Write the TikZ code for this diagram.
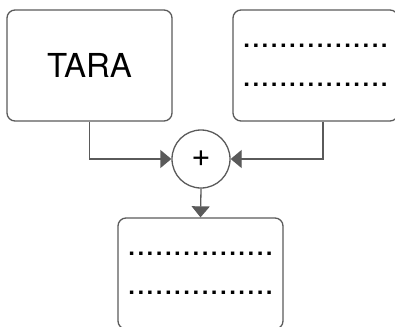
\documentclass[tikz,border=0pt]{standalone}
\usepackage{fontspec}
\setmainfont{TeX Gyre Heros}
\usetikzlibrary{arrows.meta}
\definecolor{linegray}{HTML}{5A5A5A}
\begin{document}
\begin{tikzpicture}[x=1pt, y=-1pt,
      every node/.style = {font=\fontsize{33}{39}\selectfont, align=center, inner sep=0pt},
      box/.style = {draw=linegray, line width=1.3pt, rounded corners=8pt, minimum width=165pt, minimum height=111pt},
      sum/.style = {draw=linegray, line width=1.3pt, circle, minimum size=58pt},
      arr/.style = {draw=linegray, line width=1.3pt, -{Triangle[length=11pt, width=18pt]}}]
      \useasboundingbox (0,0) rectangle (395,326);
      \node[box] (tara) at (89.5,65.5) {TARA};
      \node[box] (facts) at (315.5,65.5) {................\\................};
      \node[sum] (plus) at (201,159) {+};
      \node[box] (result) at (200.5,273.5) {................\\................};
      \draw[arr] (tara.south) |- (plus.west);
      \draw[arr] ([xshift=7.5pt]facts.south) |- (plus.east);
      \draw[arr] (plus.south) -- (result.north);
    \end{tikzpicture}
\end{document}
